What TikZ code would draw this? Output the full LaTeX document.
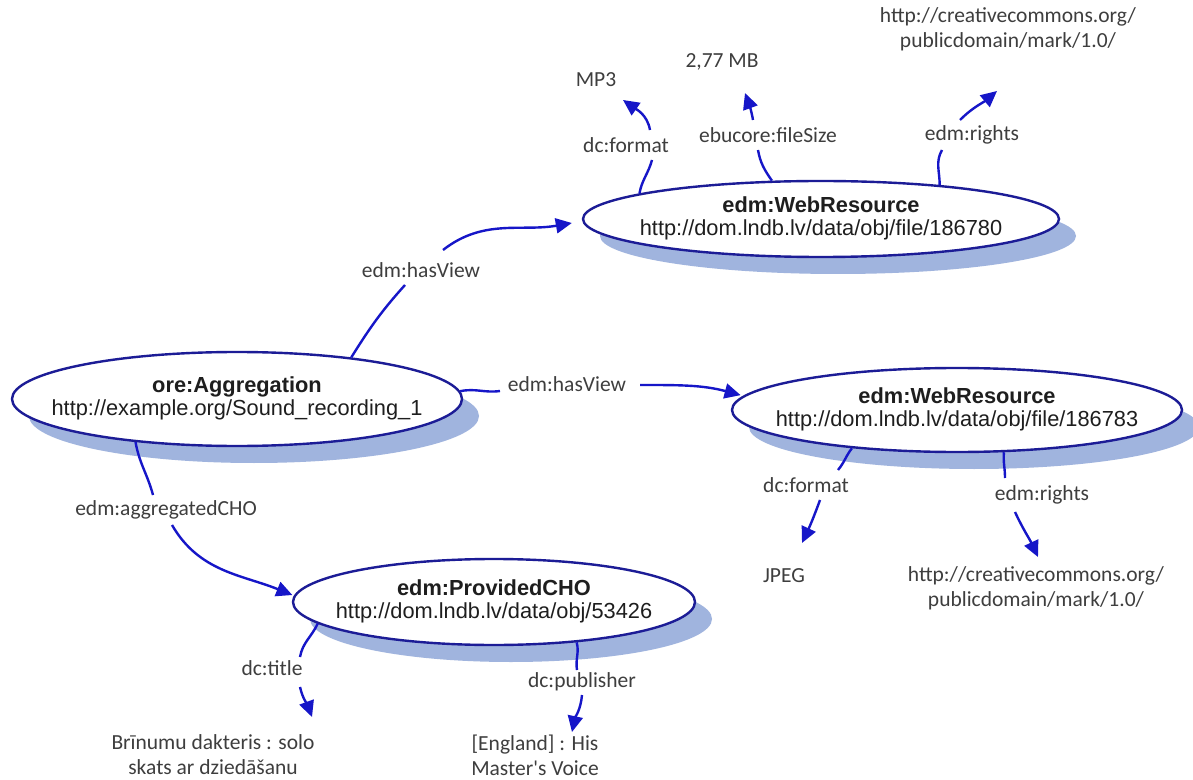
\documentclass[tikz,border=0pt]{standalone}
\usepackage{fontspec}
\newfontfamily\arialf{Liberation Sans}
\newfontfamily\calib{Carlito}
\usetikzlibrary{shapes.geometric,shadows,arrows.meta}

\definecolor{ringblue}{RGB}{28,28,150}
\definecolor{linkblue}{RGB}{22,22,200}
\definecolor{shadowblue}{RGB}{160,180,222}
\definecolor{inkdark}{RGB}{30,30,30}
\definecolor{labelgray}{RGB}{62,62,62}

% two-line entity caption: bold class name over the resource URI
\newcommand{\enttext}[2]{\makebox[0pt]{\begin{tabular}{@{}c@{}}\textbf{#1}\\#2\end{tabular}}}

\begin{document}
\begin{tikzpicture}[x=0.5pt,y=-0.5pt,
  ent/.style={ellipse, draw=ringblue, line width=1.2pt, fill=white, inner sep=0pt,
    text=inkdark, font=\arialf\fontsize{10.9}{11.5}\selectfont,
    drop shadow={shadow xshift=8.5pt, shadow yshift=-8.5pt, fill=shadowblue, opacity=1}},
  lbl/.style={font=\calib\fontsize{10.75}{12.5}\selectfont, text=labelgray,
    inner sep=1.5pt, text height=8pt, text depth=2.5pt},
  val/.style={font=\calib\fontsize{10.75}{12.5}\selectfont, text=labelgray,
    inner sep=0.5pt, align=center},
  conn/.style={draw=linkblue, line width=1.2pt},
  arr/.style={conn, -{Triangle[length=8pt,width=7.5pt]}}]

\fill[white] (0,0) rectangle (1193,780);
\useasboundingbox (0,0) rectangle (1193,780);

% entities
\node[ent, minimum width=225pt, minimum height=47pt] (agg) at (237,399)
  {\enttext{ore:Aggregation}{http://example.org/Sound\_recording\_1}};
\node[ent, minimum width=238pt, minimum height=38pt] (wr1) at (821,219)
  {\enttext{edm:WebResource}{http://dom.lndb.lv/data/obj/file/186780}};
\node[ent, minimum width=225pt, minimum height=42pt] (wr2) at (957,410)
  {\enttext{edm:WebResource}{http://dom.lndb.lv/data/obj/file/186783}};
\node[ent, minimum width=201pt, minimum height=43pt] (cho) at (494,602)
  {\enttext{edm:ProvidedCHO}{http://dom.lndb.lv/data/obj/53426}};

% property labels
\node[lbl] (hv1) at (421,272) {edm:hasView};
\node[lbl] (hv2) at (567,386) {edm:hasView};
\node[lbl] (aggcho) at (166,510) {edm:aggregatedCHO};
\node[lbl] (fmt1) at (626,147) {dc:format};
\node[lbl] (size) at (768,137) {ebucore:fileSize};
\node[lbl] (rights1) at (972,135) {edm:rights};
\node[lbl] (fmt2) at (806,487) {dc:format};
\node[lbl] (rights2) at (1042,495) {edm:rights};
\node[lbl] (title) at (272,670) {dc:title};
\node[lbl] (publisher) at (582,682) {dc:publisher};

% literal values
\node[val] (mp3) at (596,80) {MP3};
\node[val] (mb) at (722,62) {2,77 MB};
\node[val] (cc1) at (1008,29.5) {http://creativecommons.org/\\publicdomain/mark/1.0/};
\node[val] (jpeg) at (784,576) {JPEG};
\node[val] (cc2) at (1036,588) {http://creativecommons.org/\\publicdomain/mark/1.0/};
\node[val] (brin) at (213,755) {Brīnumu dakteris : solo\\skats ar dziedāšanu};
\node[val] (england) at (535,755) {[England] : His\\Master\textquotesingle s Voice};

% web resource 186780
\draw[conn] (wr1.172) to[out=80,in=255] ([xshift=13pt,yshift=-6.5pt]fmt1.center);
\draw[arr] ([xshift=12pt,yshift=8.5pt]fmt1.center) to[out=100,in=-35] ([xshift=13.5pt,yshift=-10pt]mp3.center);
\draw[conn] (wr1.142) to[out=125,in=-80] ([xshift=-5pt,yshift=-6.5pt]size.center);
\draw[arr] ([xshift=-7.5pt,yshift=8.5pt]size.center) to[out=100,in=-70] ([xshift=11.5pt,yshift=-15.5pt]mb.center);
\draw[conn] (wr1.16) to[out=90,in=240] ([xshift=-15pt,yshift=-7.5pt]rights1.center);
\draw[arr] ([xshift=-6pt,yshift=7.5pt]rights1.center) to[out=45,in=220] ([xshift=-5.5pt,yshift=-30.75pt]cc1.center);

% web resource 186783
\draw[conn] (wr2.200) to[out=232,in=50] ([xshift=16pt,yshift=8.5pt]fmt2.center);
\draw[arr] ([xshift=7pt,yshift=-6.5pt]fmt2.center) to[out=250,in=65] ([xshift=9pt,yshift=16.5pt]jpeg.center);
\draw[conn] (wr2.318) to[out=265,in=90] ([xshift=-18.5pt,yshift=8.5pt]rights2.center);
\draw[arr] ([xshift=-13.5pt,yshift=-8.5pt]rights2.center) to[out=295,in=115] ([xshift=1pt,yshift=15.5pt]cc2.center);

% aggregation links
\draw[conn] (agg.20) to[out=58,in=228] ([xshift=-8pt,yshift=-6.5pt]hv1.center);
\draw[arr] ([xshift=11pt,yshift=11pt]hv1.center) to[out=38,in=190] ([xshift=-5pt,yshift=-2pt]wr1.west);
\draw[conn] (agg.2) to[out=12,in=188] ([xshift=-33.5pt,yshift=-2.5pt]hv2.center);
\draw[arr] ([xshift=36.5pt,yshift=0.5pt]hv2.center) to[out=0,in=165] ([xshift=-2pt]wr2.176);
\draw[conn] (agg.203) to[out=280,in=105] ([xshift=-6.5pt,yshift=7.5pt]aggcho.center);
\draw[arr] ([xshift=3pt,yshift=-7.5pt]aggcho.center) to[out=300,in=158] ([xshift=-1pt]cho.178);

% provided CHO
\draw[conn] (cho.187) to[out=245,in=80] ([xshift=14pt,yshift=6.5pt]title.center);
\draw[arr] ([xshift=14pt,yshift=-8.5pt]title.center) to[out=283,in=110] ([xshift=49.5pt,yshift=19pt]brin.center);
\draw[conn] (cho.334) to[out=285,in=100] ([xshift=-2.5pt,yshift=6pt]publisher.center);
\draw[arr] ([xshift=0pt,yshift=-6.5pt]publisher.center) to[out=265,in=78] ([xshift=18.5pt,yshift=11.5pt]england.center);

\end{tikzpicture}
\end{document}
